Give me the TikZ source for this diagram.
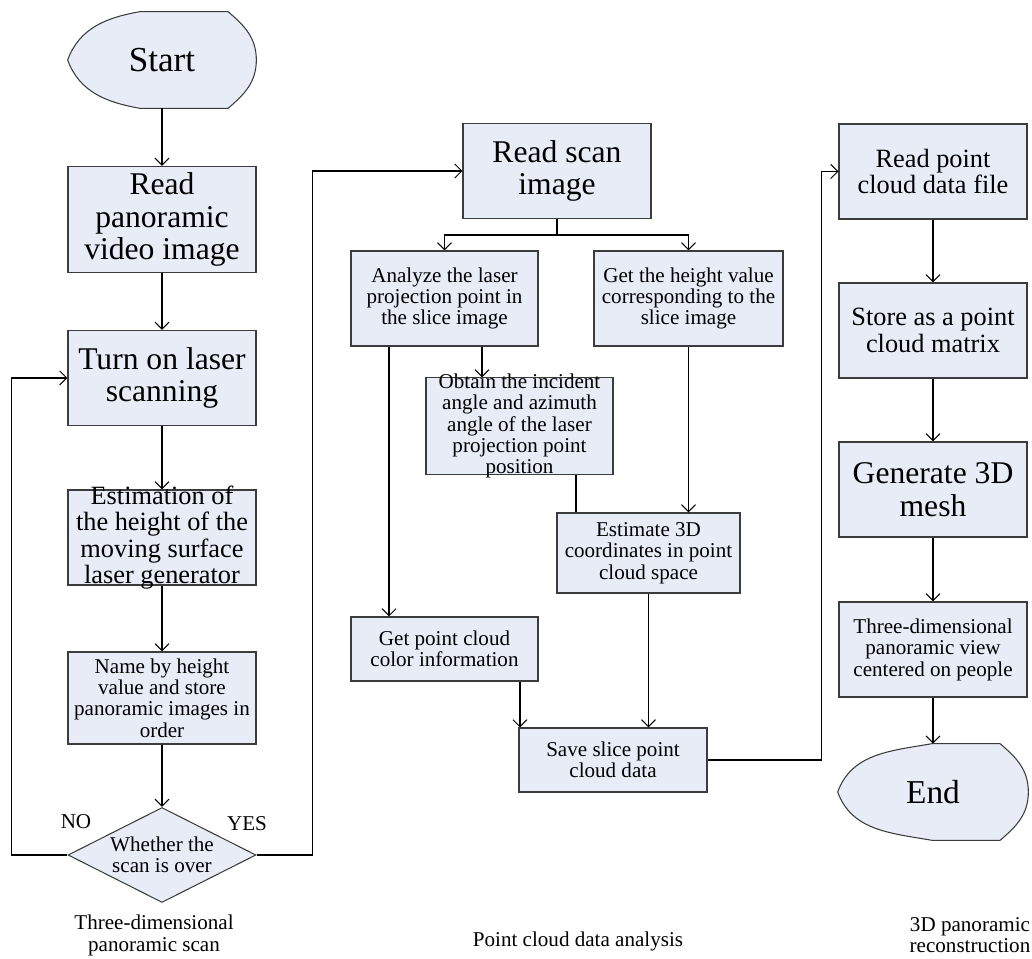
\documentclass[tikz,border=0pt]{standalone}
\usepackage{fontspec}
\setmainfont{Liberation Serif}
\usetikzlibrary{arrows.meta, positioning, calc, shapes.geometric, backgrounds}

\definecolor{boxfill}{RGB}{231,236,247}
\definecolor{boxline}{RGB}{60,60,60}

\begin{document}
\begin{tikzpicture}[
						x=0.02cm, y=0.02cm,
						block/.style = {draw=boxline, fill=boxfill, line width=0.6pt, rectangle, minimum width=3.76cm, minimum height=1.9cm, align=center, inner xsep=2pt},
						bigtext/.style = {font=\fontsize{18}{18.7}\selectfont},
						midtext/.style = {font=\fontsize{15}{15}\selectfont},
						smalltext/.style = {font=\fontsize{12}{12.2}\selectfont},
						terminal/.style = {rectangle, minimum width=3.76cm, minimum height=1.92cm, font=\fontsize{20}{20}\selectfont},
						outline/.style = {draw=boxline, fill=boxfill, line width=0.6pt},
						decision/.style = {draw=boxline, fill=boxfill, line width=0.6pt, diamond, aspect=2, inner sep=0pt, minimum width=3.76cm, minimum height=1.9cm, align=center},
						arr/.style = {-{Straight Barb[length=4pt,width=8pt]}, line width=0.6pt},
						link/.style = {line width=0.6pt}
					]
					\useasboundingbox (0,0) rectangle (1032,-959);

					% scan column
					\node[terminal] (start) at (162,-60) {Start};
					\node[block, bigtext] (readpano) at (162,-219.5) {Read\\panoramic\\video image};
					\node[block, bigtext] (laser) at (162,-378) {Turn on laser\\scanning};
					\node[block, midtext, inner ysep=-2.5pt] (estim) at (162,-537.5) {Estimation of\\the height of the\\moving surface\\laser generator};
					\node[block, smalltext, minimum height=1.84cm] (nameimg) at (162,-698) {Name by height\\value and store\\panoramic images in\\order};
					\node[decision, smalltext] (check) at (162,-855) {Whether the\\scan is over};
					\node[smalltext] (no) at (76,-822) {NO};
					\node[smalltext] (yes) at (247,-824) {YES};

					% analysis column
					\node[block, bigtext] (readscan) at (557,-171) {Read scan\\image};
					\node[block, smalltext, minimum width=3.74cm] (analyze) at (444.5,-298.5) {Analyze the laser\\projection point in\\the slice image};
					\node[block, smalltext, minimum width=3.78cm] (getheight) at (688.5,-298.5) {Get the height value\\corresponding to the\\slice image};
					\node[block, smalltext, minimum width=3.74cm, minimum height=1.92cm, inner ysep=-2.5pt] (obtain) at (519.5,-426) {Obtain the incident\\angle and azimuth\\angle of the laser\\projection point\\position};
					\node[block, smalltext, minimum width=3.66cm, minimum height=1.6cm] (est3d) at (648.5,-553) {Estimate 3D\\coordinates in point\\cloud space};
					\node[block, smalltext, minimum width=3.74cm, minimum height=1.28cm] (getcolor) at (444.5,-649) {Get point cloud\\color information};
					\node[block, smalltext, minimum height=1.28cm] (savecloud) at (613,-760) {Save slice point\\cloud data};

					% reconstruction column
					\node[block, midtext] (readcloud) at (933,-171.5) {Read point\\cloud data file};
					\node[block, midtext] (storemat) at (933,-330.5) {Store as a point\\cloud matrix};
					\node[block, bigtext] (genmesh) at (933,-489.5) {Generate 3D\\mesh};
					\node[block, smalltext] (panoview) at (933,-649.5) {Three-dimensional\\panoramic view\\centered on people};
					\node[terminal, minimum width=3.8cm, font=\fontsize{19}{19}\selectfont] (endnode) at (933,-792) {End};

					% captions
					\node[smalltext, align=center] (capscan) at (154,-935.5) {Three-dimensional\\panoramic scan};
					\node[smalltext] (capcloud) at (578,-941) {Point cloud data analysis};
					\node[smalltext, align=center] (caprecon) at (970,-935) {3D panoramic\\reconstruction};

					\begin{scope}[on background layer]
						\draw[outline] ([xshift=-0.44cm]start.north) -- ([xshift=1.32cm]start.north)
							to[out=-40,in=90] (start.east) to[out=-90,in=40] ([xshift=1.32cm]start.south)
							-- ([xshift=-0.44cm]start.south) to[out=170,in=-70] (start.west)
							to[out=70,in=190] ([xshift=-0.44cm]start.north) -- cycle;
						\draw[outline] ([xshift=-0.02cm]endnode.north) -- ([xshift=1.34cm]endnode.north)
							to[out=-40,in=90] (endnode.east) to[out=-90,in=40] ([xshift=1.34cm]endnode.south)
							-- ([xshift=-0.02cm]endnode.south) to[out=170,in=-70] (endnode.west)
							to[out=70,in=190] ([xshift=-0.02cm]endnode.north) -- cycle;
					\end{scope}

					\draw[arr] (start) -- (readpano);
					\draw[arr] (readpano) -- (laser);
					\draw[arr] (laser) -- (estim);
					\draw[arr] (estim) -- (nameimg);
					\draw[arr] (nameimg) -- (check);
					\draw[arr] (check.west) -- ++(-56,0) |- (laser.west);
					\draw[arr] (check.east) -- ++(56,0) |- (readscan.west);

					\draw[arr] (readscan.south) -- ++(0,-16) -| (analyze.north);
					\draw[arr] (readscan.south) -- ++(0,-16) -| (getheight.north);
					\draw[arr] ([xshift=0.75cm]analyze.south) -- ([xshift=0.75cm]analyze.south |- obtain.north);
					\draw[link] ([xshift=1.13cm]obtain.south) -- ([xshift=1.13cm]obtain.south |- est3d.north);
					\draw[arr] (getheight.south) -- (getheight.south |- est3d.north);
					\draw[arr] ([xshift=-1.11cm]analyze.south) -- ([xshift=-1.11cm]analyze.south |- getcolor.north);
					\draw[arr] ([xshift=1.51cm]getcolor.south) -- ([xshift=1.51cm]getcolor.south |- savecloud.north);
					\draw[arr] (est3d.south) -- (est3d.south |- savecloud.north);
					\draw[arr] (savecloud.east) -- ++(114,0) |- (readcloud.west);

					\draw[arr] (readcloud) -- (storemat);
					\draw[arr] (storemat) -- (genmesh);
					\draw[arr] (genmesh) -- (panoview);
					\draw[arr] (panoview) -- (endnode);
				\end{tikzpicture}
\end{document}
